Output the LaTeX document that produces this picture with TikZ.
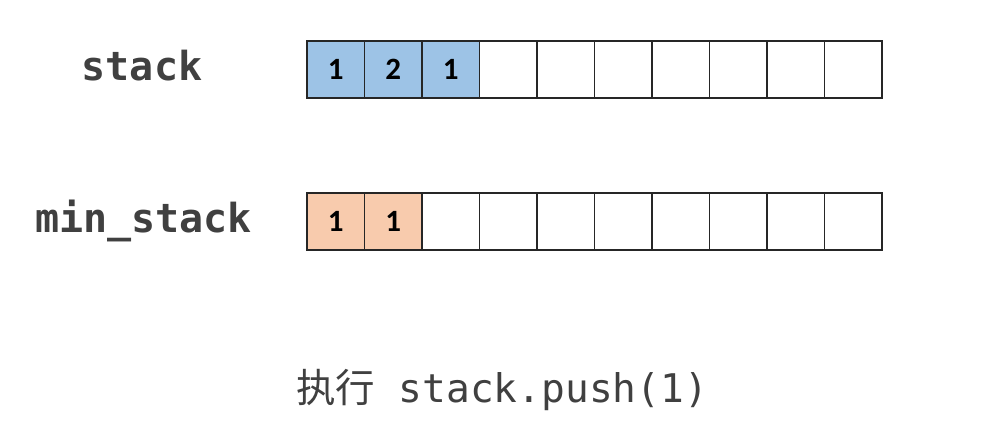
\documentclass[tikz,border=0pt]{standalone}
\usepackage{fontspec}
\setmonofont{DejaVu Sans Mono}
\newfontfamily\cellfont{Carlito}
\newfontfamily\cjk{Noto Sans CJK SC}
\usetikzlibrary{positioning}
\definecolor{pushblue}{HTML}{9DC3E6}
\definecolor{minorange}{HTML}{F8CBAD}
\definecolor{textgray}{HTML}{404040}

\begin{document}
\begin{tikzpicture}[
    x=1pt,y=-1pt,
    cell/.style={rectangle,draw=black!85,line width=1.8pt,minimum width=57.5pt,minimum height=57pt,inner sep=0pt,font=\cellfont\bfseries\fontsize{31}{31}\selectfont},
    stacklabel/.style={anchor=base,text=textgray,font=\ttfamily\bfseries\fontsize{40}{40}\selectfont},
    caption/.style={anchor=base,text=textgray,font=\ttfamily\fontsize{39.5}{39.5}\selectfont}
]
\useasboundingbox (0,0) rectangle (1007,445);

% stack row
\foreach \v [count=\i] in {1,2,1}
  \node[cell,fill=pushblue] (s\i) at ({307+57.5*(\i-0.5)},69.5) {\v};
\foreach \i in {4,...,10}
  \node[cell] (s\i) at ({307+57.5*(\i-0.5)},69.5) {};

% min_stack row
\foreach \v [count=\i] in {1,1}
  \node[cell,fill=minorange] (m\i) at ({307+57.5*(\i-0.5)},221.5) {\v};
\foreach \i in {3,...,10}
  \node[cell] (m\i) at ({307+57.5*(\i-0.5)},221.5) {};

\node[stacklabel] (stacklbl) at (142,80) {stack};
\node[stacklabel] (minlbl) at (143.5,232) {min\_stack};

\node[caption] (cap) at (502,402) {{\cjk 执行} stack.push(1)};

\end{tikzpicture}
\end{document}
